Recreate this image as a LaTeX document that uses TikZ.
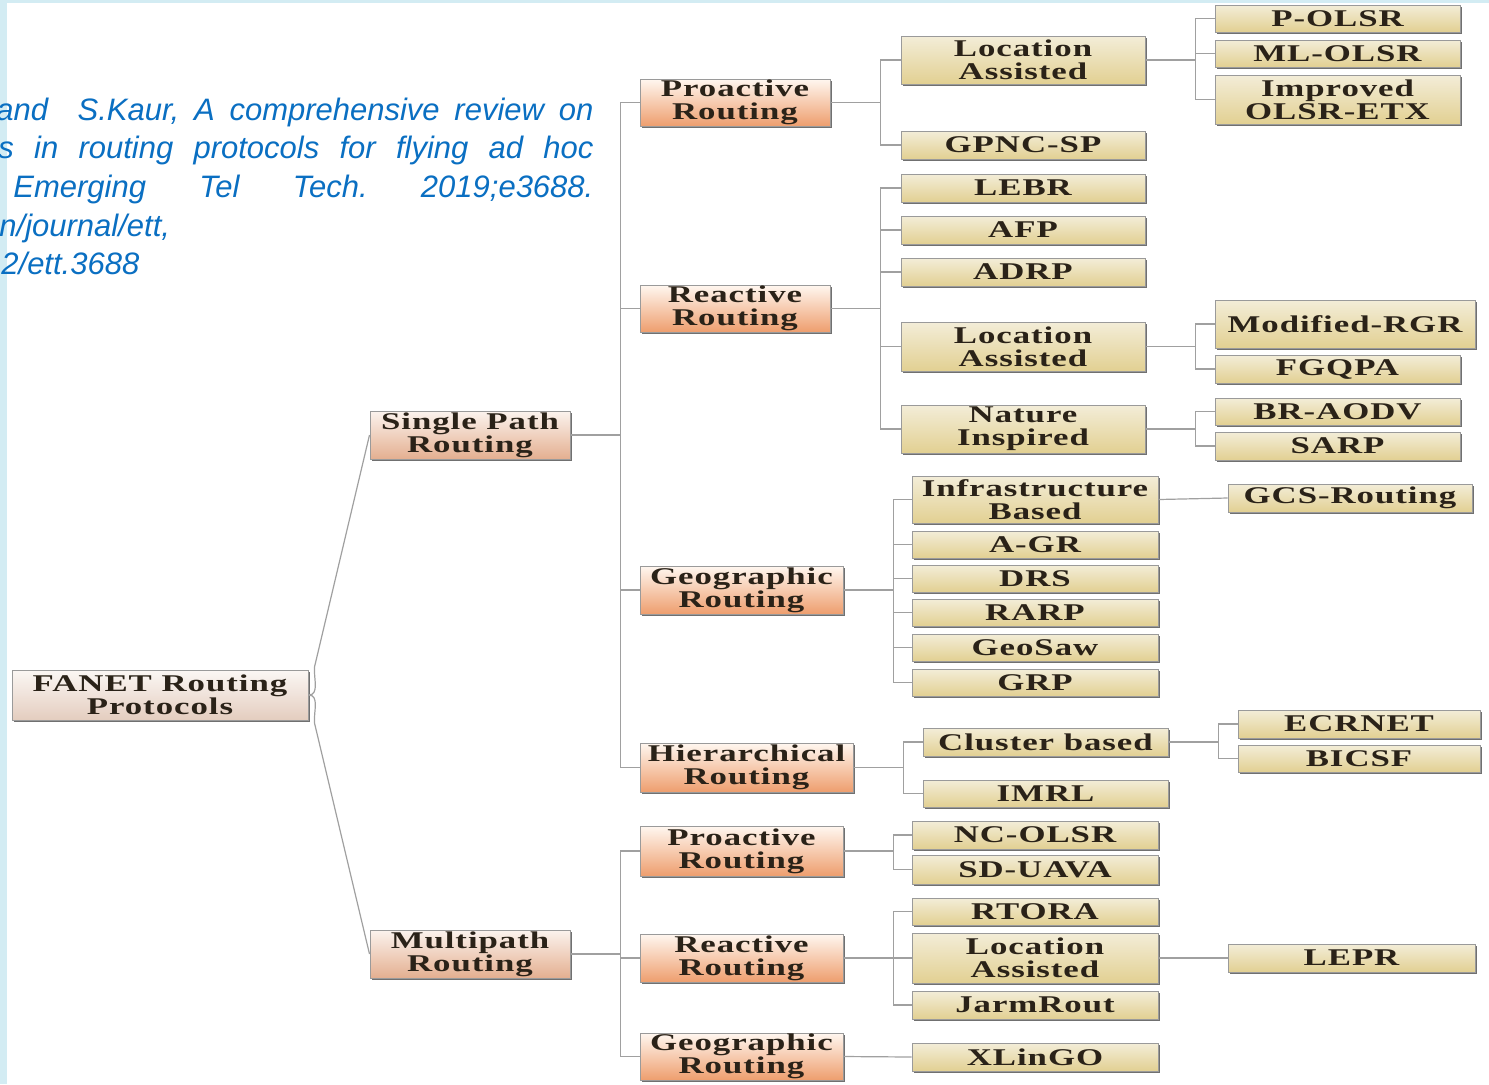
\documentclass[tikz,border=0pt]{standalone}
\usepackage{fontspec}
\usetikzlibrary{shadows,calc}
\newfontfamily\boxfont{Liberation Serif}[FakeStretch=1.45,LetterSpace=4]
\newfontfamily\citefont{Liberation Sans}
\definecolor{stripc}{HTML}{D3ECF3}
\definecolor{citec}{HTML}{0A6FC2}
\definecolor{boxline}{HTML}{9A9A9A}
\definecolor{shadowc}{HTML}{707070}
\definecolor{txtc}{HTML}{2A2218}
\definecolor{linec}{HTML}{A0A0A0}
\definecolor{oTop}{HTML}{FFF7F0}
\definecolor{oBot}{HTML}{EE9E6E}
\definecolor{mTop}{HTML}{FBF3EE}
\definecolor{mBot}{HTML}{E4AF90}
\definecolor{rTop}{HTML}{FBF7F4}
\definecolor{rBot}{HTML}{E4CDBF}
\definecolor{cTop}{HTML}{F3EDD8}
\definecolor{cMid}{HTML}{FBF8EC}
\definecolor{cBot}{HTML}{E2D092}
\tikzset{
  basebox/.style={draw=boxline, line width=0.5pt, inner sep=0pt, align=center,
    text=txtc, font={\boxfont\bfseries\fontsize{12}{11.4}\selectfont},
    drop shadow={shadow xshift=1.1pt, shadow yshift=-1.1pt, fill=shadowc, opacity=1}},
  orgbox/.style={basebox, top color=oTop, bottom color=oBot},
  midbox/.style={basebox, top color=mTop, bottom color=mBot},
  rootbox/.style={basebox, top color=rTop, bottom color=rBot},
  leafbox/.style={basebox, top color=cTop, middle color=cMid, bottom color=cBot},
  conn/.style={draw=linec, line width=0.6pt},
  citetext/.style={anchor=base west, inner sep=0pt, text=citec,
    font={\citefont\itshape\fontsize{15.5}{19}\selectfont\frenchspacing}}
}
\newcommand\nodebox[7]{\node[#1, minimum width={(#5-#3)*0.5pt}, minimum height={(#6-#4)*0.5pt}] (#2) at ({(#3+#5)/2},{(#4+#6)/2}) {#7};}
\begin{document}
\begin{tikzpicture}[x=0.5pt,y=-0.5pt]
\useasboundingbox (0,0) rectangle (1489,1084);
\fill[white] (0,0) rectangle (1489,1084);
\fill[stripc] (0,0) rectangle (7,1084);
\fill[stripc] (0,0) rectangle (1489,3);
\begin{scope}
\clip (0,0) rectangle (1489,1084);
\node[citetext] (c1) at (-4,120) {\makebox[298.5pt][s]{and\ \ S.Kaur, A comprehensive review on}};
\node[citetext] (c2) at (-2,158) {\makebox[297.5pt][s]{s in routing protocols for flying ad hoc}};
\node[citetext] (c3) at (13,197) {\makebox[290pt][s]{Emerging Tel Tech. 2019;e3688.}};
\node[citetext] (c4) at (-1,236) {n/journal/ett,};
\node[citetext] (c5) at (1,274) {2/ett.3688};
\end{scope}

% level 0-1
\nodebox{rootbox}{root}{12}{670}{308}{720}{FANET Routing\\Protocols}
\nodebox{midbox}{sp}{370}{411}{570}{459}{Single Path\\Routing}
\nodebox{midbox}{mp}{370}{930}{570}{978}{Multipath\\Routing}
% level 2
\nodebox{orgbox}{spPro}{640}{79}{830}{126}{Proactive\\Routing}
\nodebox{orgbox}{spRea}{640}{285}{830}{332}{Reactive\\Routing}
\nodebox{orgbox}{spGeo}{640}{566}{843}{614}{Geographic\\Routing}
\nodebox{orgbox}{spHie}{640}{743}{853}{792}{Hierarchical\\Routing}
\nodebox{orgbox}{mpPro}{640}{826}{843}{876}{Proactive\\Routing}
\nodebox{orgbox}{mpRea}{640}{934}{843}{982}{Reactive\\Routing}
\nodebox{orgbox}{mpGeo}{640}{1033}{843}{1080}{Geographic\\Routing}
% level 3
\nodebox{leafbox}{laP}{901}{36}{1145}{84}{Location\\Assisted}
\nodebox{leafbox}{gpnc}{901}{131}{1145}{159}{GPNC-SP}
\nodebox{leafbox}{lebr}{901}{174}{1145}{202}{LEBR}
\nodebox{leafbox}{afp}{901}{216}{1145}{244}{AFP}
\nodebox{leafbox}{adrp}{901}{258}{1145}{286}{ADRP}
\nodebox{leafbox}{laR}{901}{322}{1145}{371}{Location\\Assisted}
\nodebox{leafbox}{nat}{901}{405}{1145}{453}{Nature\\Inspired}
\nodebox{leafbox}{infra}{912}{476}{1158}{523}{Infrastructure\\Based}
\nodebox{leafbox}{agr}{912}{531}{1158}{558}{A-GR}
\nodebox{leafbox}{drs}{912}{565}{1158}{592}{DRS}
\nodebox{leafbox}{rarp}{912}{599}{1158}{626}{RARP}
\nodebox{leafbox}{geosaw}{912}{634}{1158}{661}{GeoSaw}
\nodebox{leafbox}{grp}{912}{669}{1158}{696}{GRP}
\nodebox{leafbox}{clus}{923}{728}{1168}{756}{Cluster based}
\nodebox{leafbox}{imrl}{923}{780}{1168}{807}{IMRL}
\nodebox{leafbox}{ncolsr}{912}{821}{1158}{849}{NC-OLSR}
\nodebox{leafbox}{sduava}{912}{855}{1158}{884}{SD-UAVA}
\nodebox{leafbox}{rtora}{912}{898}{1158}{925}{RTORA}
\nodebox{leafbox}{laM}{912}{933}{1158}{983}{Location\\Assisted}
\nodebox{leafbox}{jarm}{912}{991}{1158}{1019}{JarmRout}
\nodebox{leafbox}{xlingo}{912}{1043}{1158}{1071}{XLinGO}
% level 4
\nodebox{leafbox}{polsr}{1215}{5}{1460}{32}{P-OLSR}
\nodebox{leafbox}{mlolsr}{1215}{40}{1460}{67}{ML-OLSR}
\nodebox{leafbox}{impolsr}{1215}{75}{1460}{124}{Improved\\OLSR-ETX}
\nodebox{leafbox}{mrgr}{1215}{300}{1475}{348}{Modified-RGR}
\nodebox{leafbox}{fgqpa}{1215}{355}{1460}{383}{FGQPA}
\nodebox{leafbox}{braodv}{1215}{398}{1460}{425}{BR-AODV}
\nodebox{leafbox}{sarp}{1215}{432}{1460}{460}{SARP}
\nodebox{leafbox}{gcs}{1228}{484}{1472}{512}{GCS-Routing}
\nodebox{leafbox}{ecrnet}{1238}{710}{1480}{738}{ECRNET}
\nodebox{leafbox}{bicsf}{1238}{745}{1480}{772}{BICSF}
\nodebox{leafbox}{lepr}{1228}{944}{1475}{972}{LEPR}

% connectors
\draw[conn] (root.east) to[out=0,in=-95] ($(root.east)+(6,-28)$) -- (sp.west);
\draw[conn] (root.east) to[out=0,in=95] ($(root.east)+(6,28)$) -- (mp.west);
\foreach \c in {spPro,spRea,spGeo,spHie} \draw[conn] (sp.east) -- ++(50,0) |- (\c.west);
\foreach \c in {mpPro,mpRea,mpGeo} \draw[conn] (mp.east) -- ++(50,0) |- (\c.west);
\foreach \c in {laP,gpnc} \draw[conn] (spPro.east) -- ++(50,0) |- (\c.west);
\foreach \c in {polsr,mlolsr,impolsr} \draw[conn] (laP.east) -- ++(50,0) |- (\c.west);
\foreach \c in {lebr,afp,adrp,laR,nat} \draw[conn] (spRea.east) -- ++(50,0) |- (\c.west);
\foreach \c in {mrgr,fgqpa} \draw[conn] (laR.east) -- ++(50,0) |- (\c.west);
\foreach \c in {braodv,sarp} \draw[conn] (nat.east) -- ++(50,0) |- (\c.west);
\foreach \c in {infra,agr,drs,rarp,geosaw,grp} \draw[conn] (spGeo.east) -- ++(50,0) |- (\c.west);
\draw[conn] (infra.east) -- (gcs.west);
\foreach \c in {clus,imrl} \draw[conn] (spHie.east) -- ++(50,0) |- (\c.west);
\foreach \c in {ecrnet,bicsf} \draw[conn] (clus.east) -- ++(50,0) |- (\c.west);
\foreach \c in {ncolsr,sduava} \draw[conn] (mpPro.east) -- ++(50,0) |- (\c.west);
\foreach \c in {rtora,laM,jarm} \draw[conn] (mpRea.east) -- ++(50,0) |- (\c.west);
\draw[conn] (laM.east) -- (lepr.west);
\draw[conn] (mpGeo.east) -- (xlingo.west);
\end{tikzpicture}
\end{document}
